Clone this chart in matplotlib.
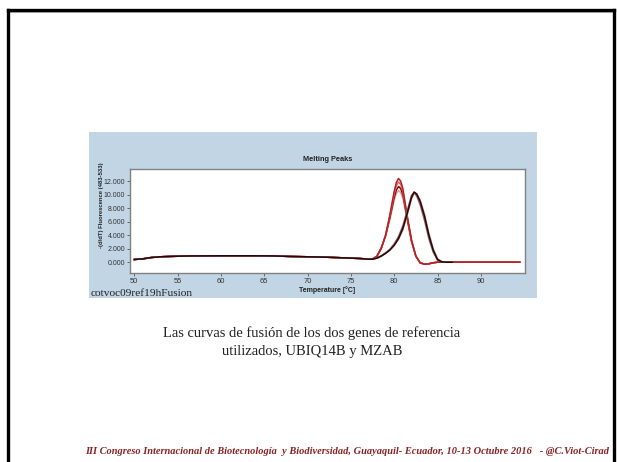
import matplotlib
matplotlib.use("Agg")
import matplotlib.pyplot as plt
from matplotlib.lines import Line2D
from matplotlib.patches import Rectangle
from matplotlib.ticker import FuncFormatter
from matplotlib import font_manager

# ---------------- data ----------------
base_t = [50, 51, 52, 53, 54, 56, 60, 64, 66, 68, 70, 72, 74, 76, 77]
base_v = [0.40, 0.50, 0.70, 0.80, 0.85, 0.92, 0.95, 0.95, 0.93, 0.85, 0.80, 0.75, 0.65, 0.55, 0.45]

red_t = [77.5, 78.0, 78.5, 79.0, 79.5, 80.0, 80.25, 80.5, 80.75, 81.0, 81.5, 82.0, 82.5, 83.0, 83.5, 84.0, 84.5, 85.0, 86.0, 90.0, 94.5]
red1 = [0.45, 0.85, 2.0, 4.0, 7.0, 10.5, 11.8, 12.4, 12.0, 10.9, 6.9, 3.3, 0.9, -0.1, -0.30, -0.25, -0.10, 0.0, 0.02, 0.0, 0.0]
red2 = [0.45, 0.85, 2.0, 3.9, 6.8, 10.1, 11.3, 11.9, 11.5, 10.5, 6.7, 3.2, 0.9, -0.1, -0.30, -0.25, -0.10, 0.0, 0.02, 0.0, 0.0]
red3 = [0.45, 0.90, 2.1, 3.9, 6.6, 9.6, 10.7, 11.2, 10.9, 10.0, 6.5, 3.1, 0.9, -0.1, -0.28, -0.22, -0.08, 0.0, 0.02, 0.0, 0.0]
red4 = [0.45, 0.90, 2.1, 3.8, 6.3, 9.2, 10.2, 10.6, 10.3, 9.5, 6.2, 3.0, 0.9, -0.1, -0.28, -0.22, -0.08, 0.0, 0.02, 0.0, 0.0]

dark_t = [77.5, 78.0, 78.5, 79.0, 79.5, 80.0, 80.5, 81.0, 81.5, 82.0, 82.3, 82.6, 83.0, 83.5, 84.0, 84.5, 85.0, 85.5, 86.0, 86.7]
dark1 = [0.45, 0.60, 0.90, 1.30, 1.80, 2.50, 3.50, 5.00, 7.20, 9.60, 10.40, 10.10, 9.00, 6.80, 4.00, 1.80, 0.40, 0.05, 0.0, 0.0]
dark2 = [0.45, 0.60, 0.95, 1.40, 1.90, 2.70, 3.80, 5.40, 7.60, 9.90, 10.30, 9.80, 8.50, 6.20, 3.50, 1.50, 0.30, 0.05, 0.0, 0.0]
dark3 = [0.45, 0.60, 0.90, 1.30, 1.80, 2.50, 3.40, 4.80, 7.00, 9.40, 10.20, 10.10, 9.20, 7.10, 4.30, 2.00, 0.50, 0.08, 0.0, 0.0]

x_ticks = [50, 55, 60, 65, 70, 75, 80, 85, 90]
y_ticks = [0, 2, 4, 6, 8, 10, 12]

red_colors = ["#b22222", "#d06a6a", "#8b0000", "#e0a0a0"]
dark_colors = ["#2a0505", "#8a6060", "#b09090"]

# narrow sans if available
_names = {f.name for f in font_manager.fontManager.ttflist}
NARROW = ["Liberation Sans Narrow", "DejaVu Sans"] if "Liberation Sans Narrow" in _names else ["Liberation Sans", "DejaVu Sans"]

# ---------------- figure ----------------
W, H = 617, 462
fig = plt.figure(figsize=(W / 100, H / 100), dpi=100)
fig.patch.set_facecolor("white")

def fx(px):
    return px / W

def fy(py):
    return 1 - py / H

# slide border
fig.add_artist(Line2D([fx(8), fx(614)], [fy(9.5), fy(9.5)], color="black", lw=2.4, transform=fig.transFigure))
fig.add_artist(Line2D([fx(9.5), fx(612.5)], [fy(11.5), fy(11.5)], color="#999999", lw=0.7, transform=fig.transFigure))
fig.add_artist(Line2D([fx(8), fx(8)], [fy(9.5), fy(462)], color="black", lw=2.4, transform=fig.transFigure))
fig.add_artist(Line2D([fx(614), fx(614)], [fy(9.5), fy(462)], color="black", lw=2.4, transform=fig.transFigure))

# blue panel
fig.add_artist(Rectangle((fx(89), fy(298)), fx(537) - fx(89), fy(132) - fy(298),
                         transform=fig.transFigure, facecolor="#c2d5e5", edgecolor="none", zorder=0))

ax = fig.add_axes([fx(130), fy(273), fx(525) - fx(130), fy(169) - fy(273)])
ax.set_facecolor("white")

def full(t, v):
    return base_t + t, base_v + v

for vals, c in zip([red4, red3, red2, red1], red_colors[::-1]):
    xs, ys = full(red_t, vals)
    ax.plot(xs, ys, color=c, lw=1.1)
for vals, c in zip([dark3, dark2, dark1], dark_colors[::-1]):
    xs, ys = full(dark_t, vals)
    ax.plot(xs, ys, color=c, lw=1.1)

ax.set_xlim(49.5, 95.1)
ax.set_ylim(-1.6, 13.8)
ax.set_xticks(x_ticks)
ax.set_yticks(y_ticks)
ax.yaxis.set_major_formatter(FuncFormatter(lambda v, p: f"{v:.3f}"))
ax.tick_params(axis="both", labelsize=5.0, length=2, width=0.6, colors="#555555", labelcolor="#333333", pad=1.5)
ax.tick_params(axis="x", labelsize=5.4)
for lab in ax.get_xticklabels() + ax.get_yticklabels():
    lab.set_family(NARROW)
for s in ax.spines.values():
    s.set_color("#808080")
    s.set_linewidth(1.0)

ax.set_title("Melting Peaks", fontsize=5.3, fontweight="bold", pad=6, color="#222222", family=NARROW)
ax.set_xlabel("Temperature [°C]", fontsize=5.0, fontweight="bold", labelpad=1, color="#222222", family=NARROW)

fig.text(fx(101), fy(205), "-(d/dT) Fluorescence (483-533)", fontsize=4.2, fontweight="bold", rotation=90,
         ha="center", va="center", color="#222222", family=NARROW)

fig.text(fx(91), fy(293), "cotvoc09ref19hFusion", family="Liberation Serif", fontsize=8.2, va="center", ha="left", color="#222222")

fig.text(fx(312), fy(333), "Las curvas de fusión de los dos genes de referencia", family="Liberation Serif",
         fontsize=10.5, ha="center", va="center", color="#222222")
fig.text(fx(312), fy(352), "utilizados, UBIQ14B y MZAB", family="Liberation Serif",
         fontsize=10.5, ha="center", va="center", color="#222222")

fig.text(fx(609), fy(452), "III Congreso Internacional de Biotecnología  y Biodiversidad, Guayaquil- Ecuador, 10-13 Octubre 2016   - @C.Viot-Cirad",
         family="Liberation Serif", fontsize=7.5, style="italic", fontweight="bold", color="#8b2323",
         ha="right", va="center")

fig.savefig("out.png", dpi=100)
